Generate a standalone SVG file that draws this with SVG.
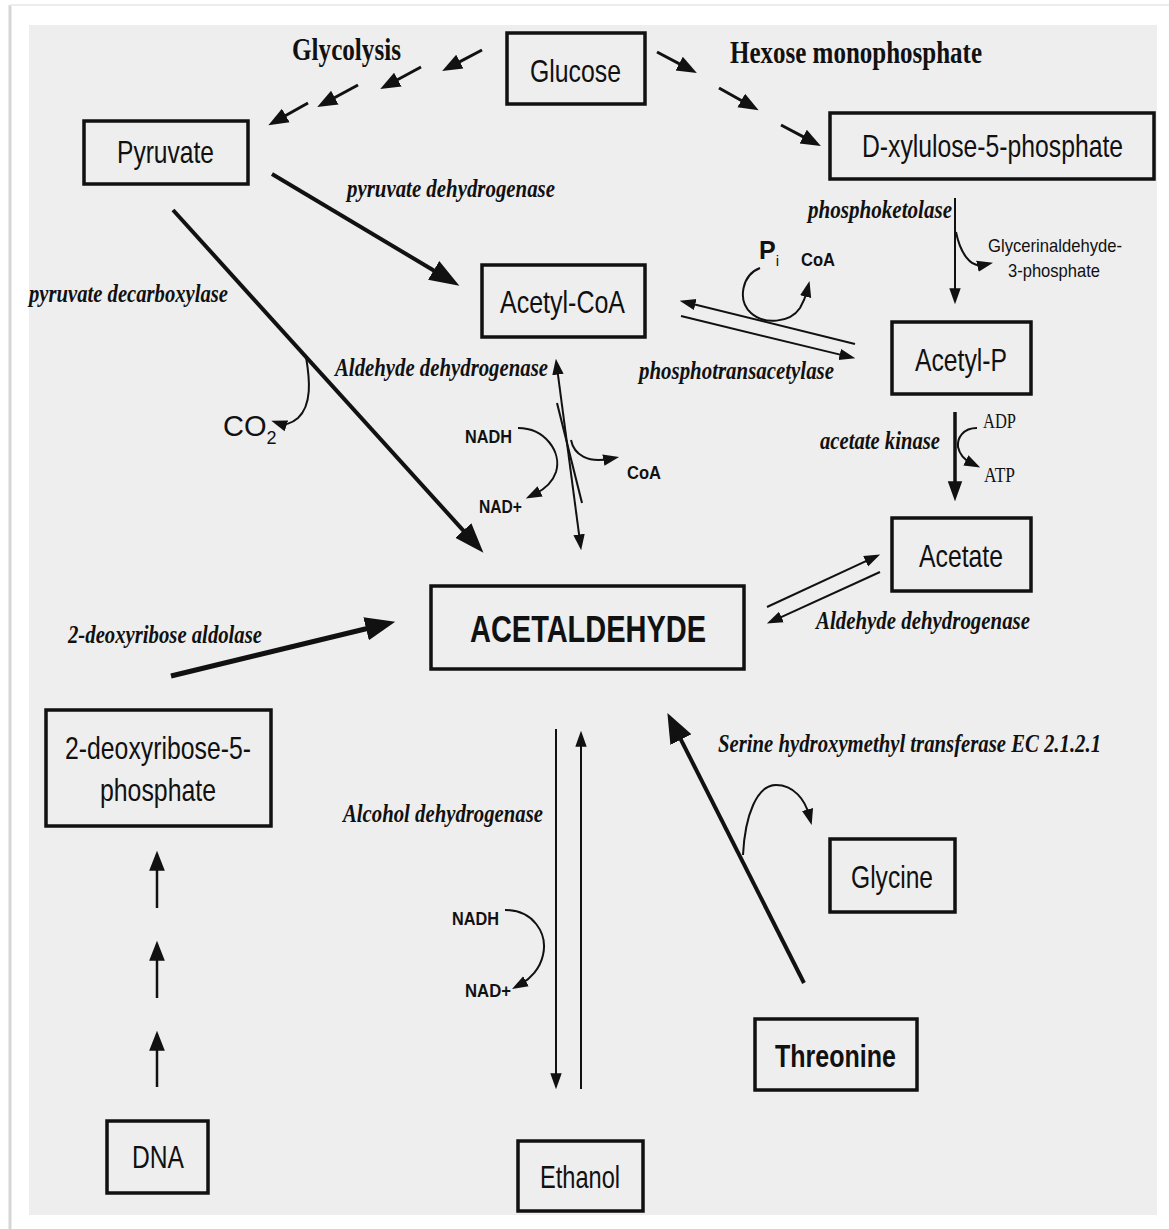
<svg xmlns="http://www.w3.org/2000/svg" width="1169" height="1229" viewBox="0 0 1169 1229">
<style>
.box{fill:none;stroke:#111;stroke-width:3.5}
.sans{font-family:"Liberation Sans Narrow","Liberation Sans",Arial,sans-serif;fill:#111}
.node{font-size:32px}
.lab{font-family:"Liberation Serif","Times New Roman",serif;font-weight:bold;font-style:italic;font-size:26px;fill:#111}
.head{font-family:"Liberation Serif","Times New Roman",serif;font-weight:bold;font-size:32px;fill:#111}
.small{font-size:18px;font-weight:bold}
.thick{stroke:#111;stroke-width:4;fill:none}
.med{stroke:#111;stroke-width:3;fill:none}
.thin{stroke:#111;stroke-width:2;fill:none}
</style>
<defs>
<marker id="big" markerUnits="userSpaceOnUse" markerWidth="30" markerHeight="30" viewBox="0 0 22 16" refX="8" refY="8" orient="auto"><path d="M0,0 L22,8 L0,16 z" fill="#111"/></marker>
<marker id="huge" markerUnits="userSpaceOnUse" markerWidth="30" markerHeight="30" viewBox="0 0 28 22" refX="10" refY="11" orient="auto"><path d="M0,0 L28,11 L0,22 z" fill="#111"/></marker>
<marker id="mid" markerUnits="userSpaceOnUse" markerWidth="20" markerHeight="20" viewBox="0 0 14 11" refX="4" refY="5.5" orient="auto"><path d="M0,0 L14,5.5 L0,11 z" fill="#111"/></marker>
<marker id="sm" markerUnits="userSpaceOnUse" markerWidth="16" markerHeight="16" viewBox="0 0 14 10" refX="5" refY="5" orient="auto-start-reverse"><path d="M0,0 L14,5 L0,10 z" fill="#111"/></marker>
<marker id="ak" markerUnits="userSpaceOnUse" markerWidth="20" markerHeight="20" viewBox="0 0 18 13" refX="6" refY="6.5" orient="auto"><path d="M0,0 L18,6.5 L0,13 z" fill="#111"/></marker>
</defs>
<rect x="0" y="0" width="1169" height="1229" fill="#ffffff"/>
<line x1="10" y1="5" x2="10" y2="1229" stroke="#d6d6d6" stroke-width="3"/>
<line x1="10" y1="5" x2="1169" y2="5" stroke="#ececec" stroke-width="2"/>
<rect x="29" y="25" width="1128" height="1190" fill="#eeeeee"/>

<g id="connectors">
<line class="med" x1="482" y1="50" x2="454.8" y2="64.3" marker-end="url(#mid)"/>
<line class="med" x1="421" y1="67" x2="392.8" y2="82.3" marker-end="url(#mid)"/>
<line class="med" x1="358" y1="85" x2="329.8" y2="100.3" marker-end="url(#mid)"/>
<line class="med" x1="308" y1="103" x2="280.8" y2="118.3" marker-end="url(#mid)"/>
<line class="med" x1="657" y1="52" x2="684.2" y2="66.3" marker-end="url(#mid)"/>
<line class="med" x1="719" y1="88" x2="746.2" y2="103.3" marker-end="url(#mid)"/>
<line class="med" x1="781" y1="125" x2="808.2" y2="139.3" marker-end="url(#mid)"/>
<line class="thick" x1="272" y1="174" x2="443" y2="276" marker-end="url(#big)"/>
<line class="thick" x1="173" y1="210" x2="470.6" y2="538.6" marker-end="url(#big)"/>
<path class="thin" d="M306,357 C310,380 312,405 298,418 C291,424 284,425 281,424" marker-end="url(#sm)"/>
<line stroke="#111" stroke-width="5" x1="171" y1="676" x2="376.5" y2="626.2" marker-end="url(#huge)"/>
<line class="thick" x1="804" y1="983" x2="676.1" y2="730.1" marker-end="url(#huge)"/>
<path class="thin" d="M743,855 C745,815 757,785 776,785 C794,785 805,800 809,815" marker-end="url(#sm)"/>
<line class="thin" x1="955" y1="198" x2="955" y2="294" marker-end="url(#sm)"/>
<path class="thin" d="M956,232 C960,252 970,268 983,265" marker-end="url(#sm)"/>
<line stroke="#111" stroke-width="3.5" x1="955" y1="412" x2="955" y2="488" marker-end="url(#ak)"/>
<path class="thin" d="M977,428 C963,428 957,438 958,447 C960,456 965,460 971,463" marker-end="url(#sm)"/>
<line class="thin" x1="855" y1="344" x2="689.7" y2="303.2" marker-end="url(#sm)"/>
<line class="thin" x1="681" y1="316" x2="845.3" y2="355.9" marker-end="url(#sm)"/>
<path class="thin" d="M760,268 C742,275 737,300 751,313 C764,325 790,323 800,308 C804,301 806,295 807,291" marker-end="url(#sm)"/>
<line class="thin" x1="557.2" y1="368.9" x2="579.8" y2="540.1" marker-start="url(#sm)" marker-end="url(#sm)"/>
<line class="thin" x1="557" y1="403" x2="582" y2="503"/>
<path class="thin" d="M518,428 C545,428 562,452 556,472 C552,484 543,490 535,494" marker-end="url(#sm)"/>
<path class="thin" d="M571,440 C574,455 588,463 609,459" marker-end="url(#sm)"/>
<line class="thin" x1="767" y1="607" x2="870.8" y2="558.8" marker-end="url(#sm)"/>
<line class="thin" x1="880" y1="572" x2="776.2" y2="619.3" marker-end="url(#sm)"/>
<line class="thin" x1="556" y1="729" x2="556" y2="1079" marker-end="url(#sm)"/>
<line class="thin" x1="581" y1="1089" x2="581" y2="741" marker-end="url(#sm)"/>
<path class="thin" d="M505,910 C533,910 548,933 543,955 C540,969 530,979 521,984" marker-end="url(#sm)"/>
<line stroke="#111" stroke-width="2.5" x1="157" y1="908" x2="157" y2="865" marker-end="url(#mid)"/>
<line stroke="#111" stroke-width="2.5" x1="157" y1="998" x2="157" y2="955" marker-end="url(#mid)"/>
<line stroke="#111" stroke-width="2.5" x1="157" y1="1087" x2="157" y2="1045" marker-end="url(#mid)"/>
</g>

<g id="labels">
<text class="head" x="292" y="60" textLength="109" lengthAdjust="spacingAndGlyphs">Glycolysis</text>
<text class="head" x="730" y="63" textLength="252" lengthAdjust="spacingAndGlyphs">Hexose monophosphate</text>
<text class="lab" x="347" y="197" textLength="208" lengthAdjust="spacingAndGlyphs">pyruvate dehydrogenase</text>
<text class="lab" x="29" y="302" textLength="199" lengthAdjust="spacingAndGlyphs">pyruvate decarboxylase</text>
<text class="lab" x="808" y="218" textLength="144" lengthAdjust="spacingAndGlyphs">phosphoketolase</text>
<text class="lab" x="335" y="376" textLength="213" lengthAdjust="spacingAndGlyphs">Aldehyde dehydrogenase</text>
<text class="lab" x="639" y="379" textLength="195" lengthAdjust="spacingAndGlyphs">phosphotransacetylase</text>
<text class="lab" x="820" y="449" textLength="120" lengthAdjust="spacingAndGlyphs">acetate kinase</text>
<text class="lab" x="816" y="629" textLength="214" lengthAdjust="spacingAndGlyphs">Aldehyde dehydrogenase</text>
<text class="lab" x="68" y="643" textLength="194" lengthAdjust="spacingAndGlyphs">2-deoxyribose aldolase</text>
<text class="lab" x="718" y="752" font-size="25" textLength="383" lengthAdjust="spacingAndGlyphs">Serine hydroxymethyl transferase EC 2.1.2.1</text>
<text class="lab" x="343" y="822" textLength="200" lengthAdjust="spacingAndGlyphs">Alcohol dehydrogenase</text>
<text class="sans" x="759" y="259" font-size="25" font-weight="bold">P<tspan font-size="15" font-weight="normal" dy="7">i</tspan></text>
<text class="sans small" x="801" y="266" textLength="34" lengthAdjust="spacingAndGlyphs">CoA</text>
<text class="sans" x="988" y="252" font-size="19" textLength="134" lengthAdjust="spacingAndGlyphs">Glycerinaldehyde-</text>
<text class="sans" x="1008" y="277" font-size="19" textLength="92" lengthAdjust="spacingAndGlyphs">3-phosphate</text>
<text class="sans small" x="465" y="443" textLength="47" lengthAdjust="spacingAndGlyphs">NADH</text>
<text class="sans small" x="479" y="513" textLength="43" lengthAdjust="spacingAndGlyphs">NAD+</text>
<text class="sans small" x="627" y="479" textLength="34" lengthAdjust="spacingAndGlyphs">CoA</text>
<text class="sans" x="223" y="436" font-size="29">CO<tspan font-size="18" dy="8">2</tspan></text>
<text x="983" y="428" font-family="Liberation Serif, serif" font-size="20" fill="#111" textLength="33" lengthAdjust="spacingAndGlyphs">ADP</text>
<text x="984" y="482" font-family="Liberation Serif, serif" font-size="20" fill="#111" textLength="31" lengthAdjust="spacingAndGlyphs">ATP</text>
<text class="sans small" x="452" y="925" textLength="47" lengthAdjust="spacingAndGlyphs">NADH</text>
<text class="sans small" x="465" y="997" textLength="46" lengthAdjust="spacingAndGlyphs">NAD+</text>
</g>

<g id="glucose"><rect class="box" x="507" y="33" width="138" height="71"/><text class="sans node" x="530" y="82" textLength="91" lengthAdjust="spacingAndGlyphs">Glucose</text></g>
<g id="pyruvate"><rect class="box" x="84" y="121" width="164" height="63"/><text class="sans node" x="117" y="163" textLength="97" lengthAdjust="spacingAndGlyphs">Pyruvate</text></g>
<g id="xylulose"><rect class="box" x="830" y="113" width="324" height="66"/><text class="sans" transform="translate(862,157) scale(1,1.23)" x="0" y="0" font-size="26" textLength="261" lengthAdjust="spacingAndGlyphs">D-xylulose-5-phosphate</text></g>
<g id="acetylcoa"><rect class="box" x="482" y="265" width="163" height="72"/><text class="sans node" x="500" y="313" textLength="125" lengthAdjust="spacingAndGlyphs">Acetyl-CoA</text></g>
<g id="acetylp"><rect class="box" x="892" y="322" width="139" height="72"/><text class="sans node" x="915" y="371" textLength="92" lengthAdjust="spacingAndGlyphs">Acetyl-P</text></g>
<g id="acetate"><rect class="box" x="892" y="518" width="139" height="73"/><text class="sans node" x="919" y="567" textLength="84" lengthAdjust="spacingAndGlyphs">Acetate</text></g>
<g id="acetaldehyde"><rect class="box" x="431" y="586" width="313" height="83" stroke-width="4"/><text class="sans" x="470" y="642" font-size="37" font-weight="bold" textLength="236" lengthAdjust="spacingAndGlyphs">ACETALDEHYDE</text></g>
<g id="deoxyribose"><rect class="box" x="46" y="710" width="225" height="116"/><text class="sans node" x="65" y="759" textLength="186" lengthAdjust="spacingAndGlyphs">2-deoxyribose-5-</text><text class="sans node" x="100" y="801" textLength="116" lengthAdjust="spacingAndGlyphs">phosphate</text></g>
<g id="glycine"><rect class="box" x="830" y="839" width="125" height="73"/><text class="sans node" x="851" y="888" textLength="82" lengthAdjust="spacingAndGlyphs">Glycine</text></g>
<g id="threonine"><rect class="box" x="755" y="1019" width="162" height="71"/><text class="sans node" x="775" y="1067" font-weight="bold" textLength="121" lengthAdjust="spacingAndGlyphs">Threonine</text></g>
<g id="dna"><rect class="box" x="107" y="1121" width="101" height="72"/><text class="sans node" x="132" y="1168" textLength="52" lengthAdjust="spacingAndGlyphs">DNA</text></g>
<g id="ethanol"><rect class="box" x="518" y="1141" width="125" height="70"/><text class="sans node" x="540" y="1188" textLength="80" lengthAdjust="spacingAndGlyphs">Ethanol</text></g>
</svg>
